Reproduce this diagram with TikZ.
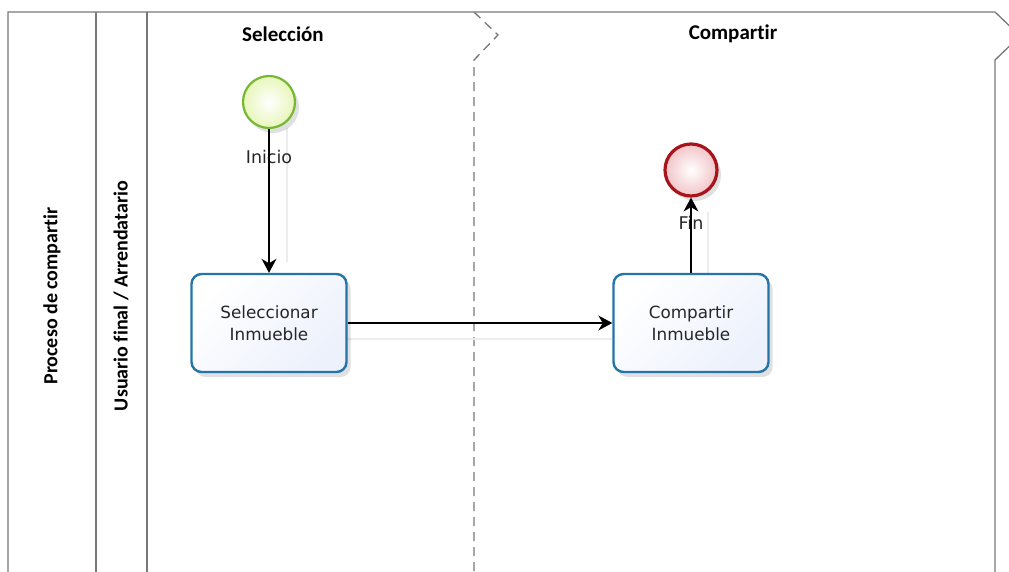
\documentclass[tikz,border=0pt]{standalone}
\usepackage{fontspec}
\newfontfamily\headfont[Ligatures=NoCommon]{Carlito}
\newfontfamily\lblfont{DejaVu Sans}
\usetikzlibrary{arrows.meta,shadows}
\definecolor{laneline}{RGB}{120,120,120}
\definecolor{taskline}{RGB}{36,116,168}
\definecolor{taskfill}{RGB}{236,241,252}
\definecolor{startline}{RGB}{118,184,52}
\definecolor{startfill}{RGB}{232,246,186}
\definecolor{endline}{RGB}{168,20,28}
\definecolor{endfill}{RGB}{242,196,200}
\definecolor{flowshadow}{RGB}{236,236,236}
\tikzset{
  lane/.style={draw=laneline, line width=1.3pt},
  header/.style={font=\headfont\bfseries\fontsize{21}{23}\selectfont, text=black},
  lanelabel/.style={font=\headfont\bfseries\fontsize{20}{22}\selectfont, rotate=90, text=black},
  task/.style={draw=taskline, line width=2.4pt, rounded corners=10pt,
    minimum width=155pt, minimum height=98pt, align=center,
    top color=white, bottom color=taskfill, shading angle=45,
    font=\lblfont\fontsize{16.8}{22}\selectfont, text=black!85,
    drop shadow={shadow xshift=4pt, shadow yshift=-5pt, opacity=0.12, fill=black}},
  startev/.style={circle, draw=startline, line width=2.2pt, minimum size=52pt, inner sep=0pt,
    inner color=white, outer color=startfill,
    drop shadow={shadow xshift=4pt, shadow yshift=-5pt, opacity=0.12, fill=black}},
  endev/.style={circle, draw=endline, line width=3.2pt, minimum size=52pt, inner sep=0pt,
    inner color=white, outer color=endfill,
    drop shadow={shadow xshift=4pt, shadow yshift=-5pt, opacity=0.12, fill=black}},
  evlabel/.style={font=\lblfont\fontsize{17.5}{20}\selectfont, text=black!85, inner sep=0pt},
  flow/.style={draw=black, line width=1.2pt, -{Stealth[length=14pt,width=15pt,inset=4.5pt]}},
  flowshade/.style={draw=flowshadow, line width=1.2pt}
}
\begin{document}
\begin{tikzpicture}[x=1pt,y=-1pt]
  \useasboundingbox (0,0) rectangle (1009,572);
  \begin{scope}
    \clip (0,0) rectangle (1009,572);
    % pool frame and lanes
    \draw[lane] (8,572) -- (8,12) -- (995,12) -- (1020,36) -- (995,60) -- (995,572);
    \draw[lane] (96,12) -- (96,572);
    \draw[lane] (147,12) -- (147,572);
    % phase separator
    \draw[lane, dash pattern=on 9pt off 6pt] (474,12) -- (498,35) -- (474,60) -- (474,572);
  \end{scope}

  % labels of pool, lane and phases
  \node[lanelabel] (pool) at (52,296) {Proceso de compartir};
  \node[lanelabel] (lane) at (121,296) {Usuario final / Arrendatario};
  \node[header] (ph1) at (283,34) {Selección};
  \node[header] (ph2) at (733,34) {Compartir};

  % faint connector shadows
  \draw[flowshade] (287,128) -- (287,262);
  \draw[flowshade] (347,339) -- (612,339);
  \draw[flowshade] (708,212) -- (708,273);

  % flow elements
  \node[startev] (inicio) at (269,102) {};
  \node[endev] (fin) at (691,170) {};
  \node[task] (sel) at (269,323) {Seleccionar\\Inmueble};
  \node[task] (comp) at (691,323) {Compartir\\Inmueble};

  \node[evlabel] (inicioLbl) at (269,157) {Inicio};
  \node[evlabel] (finLbl) at (691,223) {Fin};

  % sequence flows
  \draw[flow] (inicio.south) -- (sel.north);
  \draw[flow] (sel.east) -- (comp.west);
  \draw[flow] (comp.north) -- (fin.south);
\end{tikzpicture}
\end{document}
